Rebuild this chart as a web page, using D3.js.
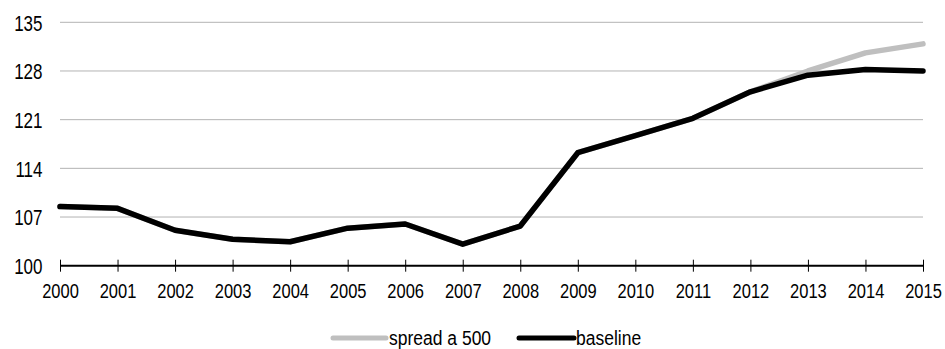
<!DOCTYPE html>
<html>
<head>
<meta charset="utf-8">
<script src="https://cdn.jsdelivr.net/npm/d3@7"></script>
<style>
  html, body { margin: 0; padding: 0; background: #fff; }
  svg { display: block; }
  text { font-family: "Liberation Sans", Arial, sans-serif; fill: #000; }
</style>
</head>
<body>
<svg id="chart" width="945" height="349"></svg>
<script>
// Years on the x axis
const years = [2000, 2001, 2002, 2003, 2004, 2005, 2006, 2007, 2008, 2009, 2010, 2011, 2012, 2013, 2014, 2015];

// Index values per scenario
const spreadA500 = [108.5, 108.25, 105.1, 103.8, 103.45, 105.4, 106.0, 103.1, 105.7, 116.25, 118.7, 121.2, 125.0, 128.0, 130.6, 131.9];
const baseline   = [108.5, 108.25, 105.1, 103.8, 103.45, 105.4, 106.0, 103.1, 105.7, 116.25, 118.7, 121.2, 125.0, 127.4, 128.2, 128.0];

// Y axis ticks
const yTicks = [100, 107, 114, 121, 128, 135];

const series = [
  { name: "spread a 500", values: spreadA500, color: "#bfbfbf" },
  { name: "baseline", values: baseline, color: "#000000" }
];

const svg = d3.select("#chart");
const plotLeft = 60, plotRight = 923, plotTop = 22.3, plotBottom = 265.7;
// Labels use a tall, narrow letterform: stretch vertically
const stretch = 1.27;

const x = d3.scaleLinear().domain([years[0], years[years.length - 1]]).range([plotLeft, plotRight]);
const y = d3.scaleLinear().domain([100, 135]).range([plotBottom, plotTop]);

// Horizontal gridlines
svg.append("g")
  .selectAll("line")
  .data(yTicks.filter(t => t !== 100))
  .join("line")
  .attr("x1", plotLeft).attr("x2", plotRight)
  .attr("y1", d => y(d)).attr("y2", d => y(d))
  .attr("stroke", "#b3b3b3").attr("stroke-width", 1);

// Y tick labels
svg.append("g")
  .selectAll("text")
  .data(yTicks)
  .join("text")
  .attr("transform", d => `translate(42.5,${y(d) + 0.5}) scale(1,${stretch})`)
  .attr("font-size", 17)
  .attr("text-anchor", "end")
  .attr("dominant-baseline", "central")
  .text(d => d);

// X axis
const xAxis = d3.axisBottom(x)
  .tickValues(years)
  .tickFormat(d3.format("d"))
  .tickSize(6)
  .tickPadding(10);

const gx = svg.append("g").attr("transform", `translate(0,${plotBottom})`).call(xAxis);
gx.attr("font-family", null).attr("font-size", null);
gx.select(".domain").attr("stroke", "#000").attr("stroke-width", 2).attr("d", `M${plotLeft},0H${plotRight}`);
gx.selectAll(".tick line").attr("stroke", "#000").attr("stroke-width", 1).attr("y1", -6).attr("y2", 6);
gx.selectAll(".tick text")
  .attr("y", null).attr("dy", null)
  .attr("font-size", 16.5)
  .attr("transform", `translate(0,25.5) scale(1,${stretch})`)
  .attr("dominant-baseline", "central");

// Series lines
const line = d3.line()
  .x((d, i) => x(years[i]))
  .y(d => y(d));

svg.append("g")
  .selectAll("path")
  .data(series)
  .join("path")
  .attr("d", d => line(d.values))
  .attr("fill", "none")
  .attr("stroke", d => d.color)
  .attr("stroke-width", 5.5)
  .attr("stroke-linejoin", "round")
  .attr("stroke-linecap", "round");

// Legend
const legendItems = [
  { name: series[0].name, color: series[0].color, x1: 333, x2: 386, tx: 389 },
  { name: series[1].name, color: series[1].color, x1: 519, x2: 574, tx: 576 }
];
const lg = svg.append("g").attr("transform", "translate(0,338)");
lg.selectAll("line")
  .data(legendItems)
  .join("line")
  .attr("x1", d => d.x1).attr("x2", d => d.x2)
  .attr("y1", 0).attr("y2", 0)
  .attr("stroke", d => d.color)
  .attr("stroke-width", 5)
  .attr("stroke-linecap", "round");
lg.selectAll("text")
  .data(legendItems)
  .join("text")
  .attr("transform", d => `translate(${d.tx},-0.5) scale(1,1.2)`)
  .attr("font-size", 17.5)
  .attr("dominant-baseline", "central")
  .text(d => d.name);
</script>
</body>
</html>
